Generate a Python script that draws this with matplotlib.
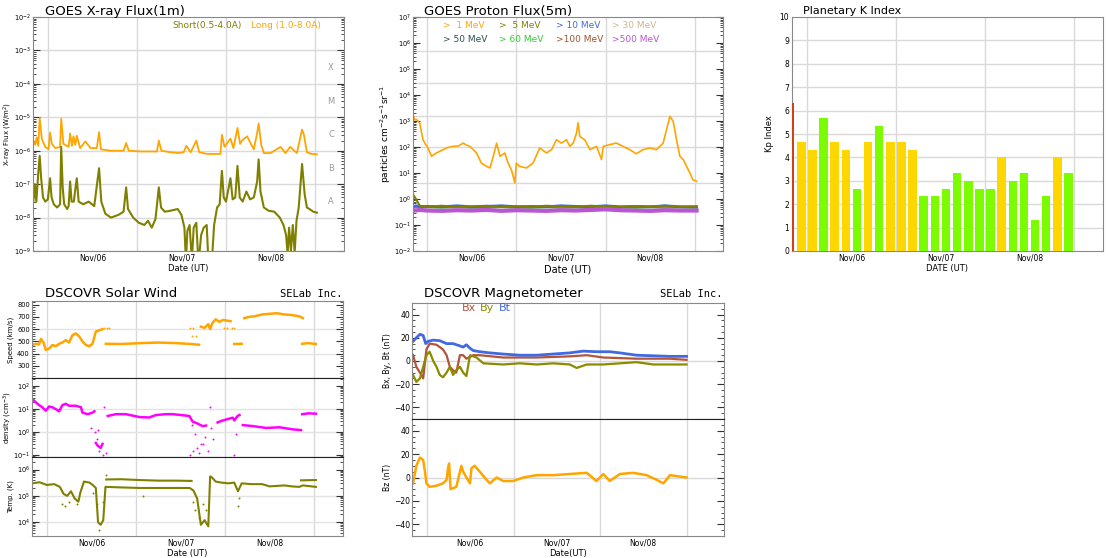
"""
plot.py

Recreates the space weather dashboard: GOES X-ray flux, GOES proton flux,
planetary K index, DSCOVR solar wind and DSCOVR magnetometer.
Time is given in hours from Nov/06 00:00 UT.
"""

import matplotlib
matplotlib.use("Agg")
import matplotlib.pyplot as plt
from matplotlib.ticker import LogLocator, MultipleLocator, NullFormatter

W, H = 1108, 558

day_ticks = [12, 36, 60]
day_labels = ["Nov/06", "Nov/07", "Nov/08"]
midnights = [0, 24, 48, 72]

# GOES X-ray, long channel (hour, W/m2 in 1e-6)
xray_long = [(-3.9, 2.0), (-3.4, 1.5), (-3.0, 2.5), (-2.6, 1.4), (-2.2, 9.5), (-1.6, 2.2),
             (-0.7, 1.3), (0.2, 1.1), (0.6, 3.5), (1.1, 1.6), (2.0, 1.2), (3.3, 1.3),
             (3.6, 9.0), (4.2, 1.6), (5.6, 1.3), (6.0, 3.3), (6.5, 1.4), (6.9, 2.7),
             (7.4, 1.5), (7.8, 2.8), (8.7, 1.2), (10.1, 1.9), (11.5, 1.2), (13.2, 1.2),
             (13.8, 3.6), (14.3, 1.1), (17.0, 1.0), (20.4, 1.0), (21.1, 1.7), (21.8, 1.0),
             (25.0, 0.95), (29.4, 0.95), (29.9, 2.0), (30.6, 1.0), (33.0, 0.9), (35.2, 0.85),
             (36.6, 0.9), (37.3, 1.4), (38.5, 0.9), (40.0, 2.0), (40.8, 0.9), (43.0, 0.8),
             (46.5, 0.8), (46.9, 3.0), (47.6, 1.3), (49.2, 2.3), (50.0, 1.2), (51.1, 4.8),
             (51.8, 1.6), (52.3, 2.0), (53.7, 2.7), (54.6, 1.7), (55.5, 1.1), (56.4, 3.4),
             (56.8, 6.5), (57.5, 1.5), (58.2, 0.85), (60.0, 0.85), (62.7, 1.3), (64.0, 0.85),
             (65.3, 1.3), (67.1, 0.85), (68.5, 4.3), (69.0, 3.0), (69.8, 0.9), (71.0, 0.8),
             (72.5, 0.78)]

# GOES X-ray, short channel (hour, W/m2 in 1e-8)
xray_short = [(-3.9, 3), (-3.5, 10), (-3.1, 3), (-2.6, 20), (-2.2, 70), (-1.8, 15), (-1.3, 4),
              (-0.7, 3), (0.0, 3.5), (0.6, 15), (1.0, 4), (1.6, 2.5), (2.5, 2), (3.3, 2.5),
              (3.6, 130), (4.0, 8), (4.4, 2.5), (5.2, 1.8), (5.6, 2.2), (6.0, 12), (6.4, 3),
              (7.0, 3), (7.4, 7), (7.8, 15), (8.3, 3), (9.5, 2.5), (11.0, 3), (12.5, 2.2),
              (13.8, 30), (14.4, 3), (15.5, 1.3), (17.0, 1.0), (19.0, 1.2), (20.4, 1.5),
              (21.1, 8), (21.6, 1.8), (23.0, 1.0), (24.5, 0.7), (26.0, 0.6), (27.0, 0.8),
              (28.0, 0.5), (29.0, 0.9), (29.9, 8), (30.5, 2), (31.5, 1.5), (33.0, 1.6),
              (35.0, 1.8), (36.0, 1.2), (36.8, 0.5), (37.2, 0.05), (37.6, 0.4), (38.2, 0.6),
              (38.8, 0.05), (39.3, 0.5), (40.0, 0.7), (40.6, 0.04), (41.3, 0.3), (42.0, 0.5),
              (42.8, 0.6), (43.3, 0.04), (44.2, 0.05), (44.8, 0.6), (45.6, 2.0), (46.3, 2.5),
              (46.9, 25), (47.4, 4), (48.0, 3), (49.2, 15), (49.8, 3.5), (50.5, 4), (51.1, 35),
              (51.7, 4), (52.5, 3), (53.5, 6), (54.5, 3.5), (55.5, 4), (56.4, 12), (56.8, 55),
              (57.3, 6), (58.2, 2), (59.5, 1.6), (61.0, 1.5), (62.5, 1.0), (63.5, 0.6),
              (64.2, 0.3), (64.6, 0.08), (65.0, 0.5), (65.5, 0.1), (66.0, 0.6), (66.5, 0.09),
              (67.0, 0.8), (67.6, 2.0), (68.5, 40), (69.2, 5), (69.8, 2.0), (70.5, 1.8),
              (71.5, 1.5), (72.5, 1.4)]

# GOES proton flux > 1 MeV (hour, particles)
proton_1mev = [(-3.8, 1750), (-3.3, 1100), (-2.9, 1150), (-2.0, 840), (-1.1, 190), (-0.5, 130),
               (0.0, 106), (1.2, 44), (2.5, 59), (4.3, 79), (5.5, 95), (7.0, 106), (8.5, 110),
               (9.7, 142), (10.5, 120), (11.5, 106), (13.3, 59), (14.6, 24), (16.0, 18),
               (16.9, 15.6), (17.8, 44), (18.7, 140), (19.6, 44), (20.9, 59), (21.8, 24),
               (22.7, 13), (23.6, 4.1), (24.0, 24), (24.9, 18), (26.7, 15.6), (28.5, 24),
               (30.3, 92), (32.1, 59), (33.5, 79), (34.8, 190), (36.1, 142), (37.5, 190),
               (38.4, 106), (39.3, 142), (40.2, 345), (40.6, 850), (41.1, 250), (42.4, 190),
               (43.8, 79), (45.6, 106), (46.9, 33), (47.4, 106), (49.1, 123), (50.9, 142),
               (52.7, 106), (54.5, 79), (56.3, 55), (58.1, 79), (59.9, 92), (61.7, 79),
               (63.5, 142), (64.4, 464), (65.3, 1510), (66.2, 970), (67.1, 190), (68.0, 44),
               (68.9, 33), (69.8, 18), (70.7, 10), (71.5, 5.5), (72.5, 4.8)]

# the higher energy channels sit near the background level
proton_low_hours = [-3.8, -3.0, -2.0, 0, 4, 8, 12, 16, 20, 24, 28, 32, 36, 40, 44, 48, 52,
                    56, 60, 64, 68, 72.5]
proton_5mev = [1.5, 1.0, 0.55, 0.5, 0.55, 0.5, 0.52, 0.55, 0.5, 0.53, 0.5, 0.55, 0.52, 0.5,
               0.55, 0.52, 0.5, 0.53, 0.5, 0.55, 0.5, 0.52]
proton_10mev = [0.5, 0.55, 0.5, 0.52, 0.5, 0.55, 0.5, 0.52, 0.55, 0.5, 0.52, 0.5, 0.55, 0.52,
                0.5, 0.55, 0.5, 0.52, 0.5, 0.55, 0.5, 0.5]
proton_60mev = [0.48, 0.5, 0.47, 0.5, 0.48, 0.5, 0.47, 0.49, 0.5, 0.48, 0.47, 0.5, 0.48, 0.49,
                0.47, 0.5, 0.48, 0.47, 0.5, 0.48, 0.49, 0.47]
proton_500mev = [0.37, 0.36, 0.38, 0.36, 0.35, 0.37, 0.36, 0.38, 0.35, 0.37, 0.36, 0.35, 0.37,
                 0.36, 0.38, 0.4, 0.37, 0.36, 0.35, 0.37, 0.36, 0.36]

proton_legend = [(">  1 MeV", "#FFA500"), (">  5 MeV", "#808000"), ("> 10 MeV", "#4169E1"),
                 ("> 30 MeV", "#D2B48C"), ("> 50 MeV", "#2F4F4F"), ("> 60 MeV", "#32CD32"),
                 (">100 MeV", "#A0522D"), (">500 MeV", "#BA55D3")]

# Planetary K index, 3-hour bars (bar centre hour, Kp, colour key)
kp_hours = [-4.5, -1.5, 1.5, 4.5, 7.5, 10.5, 13.5, 16.5, 19.5, 22.5, 25.5, 28.5, 31.5,
            34.5, 37.5, 40.5, 43.5, 46.5, 49.5, 52.5, 55.5, 58.5, 61.5, 64.5, 67.5, 70.5]
kp_values = [6.33, 4.67, 4.33, 5.67, 4.67, 4.33, 2.67, 4.67, 5.33, 4.67, 4.67, 4.33, 2.33,
             2.33, 2.67, 3.33, 3.0, 2.67, 2.67, 4.0, 3.0, 3.33, 1.33, 2.33, 4.0, 3.33]
kp_kinds = ["r", "y", "y", "g", "y", "y", "g", "y", "g", "y", "y", "y", "g",
            "g", "g", "g", "g", "g", "g", "y", "g", "g", "g", "g", "y", "g"]
kp_palette = {"r": "#D2401A", "y": "#FFD700", "g": "#7CFC00"}

# DSCOVR solar wind speed (km/s), segments split by data gaps
speed_segments = [
    [(-3.9, 470), (-3.0, 480), (-2.1, 475), (-1.6, 520), (-0.9, 490), (-0.3, 430), (0.6, 440),
     (1.5, 470), (2.4, 460), (3.3, 480), (4.2, 490), (5.1, 510), (6.0, 490), (6.9, 550),
     (7.8, 565), (8.7, 540), (9.6, 500), (10.5, 470), (11.4, 460), (12.3, 480), (13.2, 580),
     (14.1, 590), (15.0, 600)],
    [(15.9, 480), (20.0, 478), (25.0, 485), (30.0, 490), (35.0, 485), (39.0, 478), (41.0, 472)],
    [(41.5, 620), (42.5, 610), (43.5, 640), (44.0, 600), (44.6, 650), (45.5, 680), (46.5, 660),
     (47.5, 675), (48.5, 670), (49.5, 665)],
    [(50.5, 478), (52.5, 480)],
    [(53.2, 690), (54.5, 700), (56.0, 705), (58.0, 720), (60.0, 725), (62.0, 730), (64.0, 720),
     (66.0, 715), (68.0, 705), (69.0, 690)],
    [(68.8, 480), (70.5, 485), (72.5, 478)],
]
speed_dots = [(15.5, 610), (16.2, 612), (16.8, 608), (38.5, 610), (39.5, 612), (40.2, 545),
              (39.0, 540), (47.8, 610), (48.5, 612), (49.8, 610), (50.5, 612)]

# proton density (cm^-3)
density_segments = [
    [(-3.9, 28), (-3.0, 20), (-2.1, 15), (-1.2, 12), (-0.3, 8.5), (0.6, 13), (1.5, 12),
     (2.9, 9), (3.3, 8), (4.2, 15), (5.1, 17), (6.0, 14), (7.8, 14), (9.2, 12), (9.6, 7),
     (11.0, 6), (12.3, 7), (12.8, 8)],
    [(13.2, 0.33), (13.7, 0.25), (14.5, 0.2), (15.0, 0.3)],
    [(16.4, 5), (18.6, 6), (21.3, 6), (24.9, 4.5), (27.6, 4.3), (29.4, 5.5), (32.1, 6),
     (33.9, 6), (36.6, 5.4), (38.4, 5), (39.3, 2.8), (40.2, 2.5), (42.0, 1.8), (42.9, 1.9)],
    [(46.0, 2.6), (46.9, 3), (48.3, 3.5), (50.1, 4.2), (50.5, 3.2), (51.4, 5), (51.9, 5.5)],
    [(52.8, 2.0), (55.5, 1.8), (59.1, 1.5), (62.7, 1.6), (66.2, 1.3), (68.5, 1.2)],
    [(68.8, 6.0), (70.5, 6.5), (72.5, 6.3)],
]
density_dots = [(13.0, 1.0), (13.5, 0.5), (14.0, 0.15), (15.2, 0.1), (15.5, 12), (16.0, 0.12),
                (38.5, 0.1), (39.5, 0.15), (40.0, 0.8), (40.5, 0.2), (41.0, 0.12), (41.5, 0.3),
                (42.5, 0.6), (43.5, 0.15), (43.9, 13), (44.2, 1.5), (44.8, 0.5), (50.5, 0.1),
                (51.0, 0.8), (12.0, 1.5), (13.8, 1.2), (39.0, 2.0), (42.0, 0.3)]

# proton temperature (K), main band plus an upper band
temp_main = [(-3.9, 3.0e5), (-2.0, 3.3e5), (0.0, 2.6e5), (2.0, 2.8e5), (3.5, 2.2e5),
             (4.5, 1.2e5), (5.5, 1.0e5), (6.5, 1.5e5), (7.5, 0.8e5), (8.5, 0.6e5), (9.0, 1.3e5),
             (10.0, 3.5e5), (11.5, 3.2e5), (12.5, 2.5e5), (13.2, 2.0e5), (13.8, 1.0e4),
             (14.5, 8e3), (15.2, 1.2e4), (15.8, 2.2e5), (20.0, 2.1e5), (25.0, 2.0e5),
             (30.0, 2.0e5), (35.0, 2.0e5), (38.5, 2.0e5), (39.5, 1.6e5), (40.5, 8e4),
             (41.5, 8e3), (42.5, 1.2e4), (43.5, 7e3), (44.0, 5.5e5), (44.5, 5.0e5),
             (45.5, 3.5e5), (47.0, 3.2e5), (49.0, 3.0e5), (50.5, 3.2e5), (51.5, 1.5e5),
             (52.5, 3.0e5), (55.0, 2.8e5), (58.0, 2.8e5), (60.0, 2.3e5), (62.0, 2.4e5),
             (64.0, 2.5e5), (66.0, 2.3e5), (68.0, 2.2e5), (69.0, 2.5e5), (72.5, 2.2e5)]
temp_upper = [[(16.0, 4.2e5), (20.0, 4.3e5), (25.0, 4.0e5), (30.0, 3.8e5), (35.0, 3.8e5),
               (39.0, 3.7e5)],
              [(68.5, 3.9e5), (72.5, 4.0e5)]]
temp_dots = [(4.0, 5e4), (5.0, 4e4), (6.0, 6e4), (8.0, 5e4), (12.5, 1.3e5), (13.5, 5e4),
             (14.0, 5e3), (15.0, 6e4), (16.0, 6e5), (39.5, 6e4), (40.0, 3e4), (41.0, 1.5e4),
             (42.0, 5e4), (43.0, 3e4), (51.5, 4e4), (51.8, 8e4), (26.0, 1.0e5)]

# DSCOVR magnetometer (nT)
mag_bt = [(-3.9, 17), (-3.0, 20), (-2.0, 23), (-1.1, 22), (-0.4, 15), (0.3, 17), (1.7, 18),
          (3.5, 17.5), (5.4, 15), (7.2, 15), (9.1, 13), (10.0, 12), (10.9, 14), (11.9, 11),
          (12.8, 9), (14.6, 8), (17.4, 7), (21.1, 6), (25.7, 5), (30.4, 5), (35.0, 6),
          (39.6, 7), (43.3, 8.5), (47.0, 8), (50.7, 8), (53.5, 7), (58.1, 5), (62.8, 4.5),
          (67.4, 4), (72.0, 4)]
mag_bx = [(-3.9, 5), (-3.0, -5), (-2.0, -10), (-1.1, -15), (-0.2, 10), (0.7, 15), (2.6, 14),
          (4.4, 10), (5.4, 5), (6.3, -5), (7.2, -8), (8.1, -10), (9.1, 5), (10.0, 5), (10.9, 2),
          (12.8, 5), (14.6, 5), (21.1, 3), (30.4, 3), (39.6, 4), (44.3, 5), (48.9, 3),
          (58.1, 2), (67.4, 2), (72.0, 1)]
mag_by = [(-3.9, -12), (-3.0, -18), (-2.0, -15), (-1.1, -5), (-0.2, 5), (0.7, 8), (1.7, 0),
          (2.6, -5), (3.5, -12), (4.4, -14), (5.4, -10), (6.3, -5), (7.2, -12), (8.1, -8),
          (9.1, -5), (10.0, -10), (10.9, -13), (11.9, 5), (13.7, 3), (15.6, -2), (21.1, -3),
          (25.7, -2), (30.4, -3), (35.0, -2), (39.6, -3), (41.5, -6), (44.3, -3), (48.9, -3),
          (53.5, -2), (58.1, -1), (62.8, -3), (67.4, -3), (72.0, -3)]
mag_bz = [(-3.9, -5), (-3.0, 10), (-2.0, 17), (-1.1, 15), (-0.6, 5), (-0.2, -5), (0.7, -8),
          (2.6, -7), (4.4, -5), (5.4, -2), (5.8, 8), (6.1, 12), (6.5, -10), (8.1, -8),
          (9.5, 10), (10.0, 5), (10.9, 0), (11.9, -5), (12.3, 8), (13.2, 10), (14.6, 5),
          (16.5, -2), (17.4, -5), (19.3, 0), (21.1, -3), (23.9, -3), (26.7, 0), (30.4, 2),
          (35.0, 2), (39.6, 3), (44.3, 4), (47.0, -3), (48.9, 3), (50.7, -3), (53.5, 3),
          (57.2, 4), (60.9, 2), (63.7, -2), (65.6, -5), (67.4, 2), (72.0, 0)]

fig = plt.figure(figsize=(W / 100, H / 100), dpi=100)


def add_axes_px(left, top, right, bottom):
    return fig.add_axes([left / W, 1 - bottom / H, (right - left) / W, (bottom - top) / H])


def fig_text(x, y, s, **kw):
    return fig.text(x / W, 1 - y / H, s, **kw)


def split(pairs, scale=1.0):
    return [p[0] for p in pairs], [p[1] * scale for p in pairs]


def style_axes(ax, xlim, labels=True, grid_color="#d9d9d9"):
    ax.set_xlim(*xlim)
    ax.set_xticks(day_ticks)
    ax.set_xticklabels(day_labels if labels else [])
    for m in midnights:
        ax.axvline(m, color=grid_color, lw=1, zorder=0)
    ax.tick_params(axis="x", length=0, labelsize=5.5, pad=2)
    ax.tick_params(axis="y", which="both", direction="in", right=True, labelsize=4.8,
                   pad=1.5, color="#333333")
    ax.tick_params(axis="y", which="major", length=5)
    ax.tick_params(axis="y", which="minor", length=2.5)
    for s in ax.spines.values():
        s.set_color("#888888")


def log_ticks(ax):
    ax.yaxis.set_major_locator(LogLocator(base=10, numticks=20))
    ax.yaxis.set_minor_locator(LogLocator(base=10, subs=range(2, 10), numticks=20))
    ax.yaxis.set_minor_formatter(NullFormatter())


def place_ylabel(ax, text, x_px, left_px, width_px):
    # right edge of the rotated label sits at x_px (figure pixels)
    ax.set_ylabel(text, fontsize=5)
    ax.yaxis.set_label_coords((x_px - left_px) / width_px, 0.5)


# ---- GOES X-ray ----
ax = add_axes_px(33, 17, 344, 251)
style_axes(ax, (-4, 79.8))
ax.set_yscale("log")
ax.set_ylim(1e-9, 1e-2)
log_ticks(ax)
for p in range(-9, -2):
    ax.axhline(10.0 ** p, color="#d9d9d9", lw=1, zorder=0)
t, v = split(xray_long, 1e-6)
ax.plot(t, v, color="#FFA500", lw=1.3)
t, v = split(xray_short, 1e-8)
ax.plot(t, v, color="#808000", lw=1.5)
for letter, level in zip("XMCBA", [3e-4, 3e-5, 3e-6, 3e-7, 3e-8]):
    ax.text(0.958, level, letter, transform=ax.get_yaxis_transform(), color="#999999",
            fontsize=6, ha="center", va="center")
place_ylabel(ax, "X-ray Flux (W/m$^2$)", 13.5, 33, 311)
ax.set_xlabel("Date (UT)", fontsize=6, labelpad=1)
fig_text(45, 15, "GOES X-ray Flux(1m)", fontsize=9.5)
fig_text(172, 28, "Short(0.5-4.0A)", fontsize=6.5, color="#808000")
fig_text(251, 28, "Long (1.0-8.0A)", fontsize=6.5, color="#FFA500")

# ---- GOES proton ----
ax = add_axes_px(413, 17, 723, 251)
style_axes(ax, (-3.8, 79.6))
ax.set_yscale("log")
ax.set_ylim(1e-2, 1e7)
log_ticks(ax)
for level in [5e5, 3e4, 1.5e3, 1e2, 4]:
    ax.axhline(level, color="#d9d9d9", lw=1, zorder=0)
t, v = split(proton_1mev)
ax.plot(t, v, color="#FFA500", lw=1.2)
ax.plot(proton_low_hours, proton_60mev, color="#32CD32", lw=2)
ax.plot(proton_low_hours, proton_10mev, color="#4169E1", lw=2)
ax.plot(proton_low_hours, proton_5mev, color="#808000", lw=1.5)
ax.plot(proton_low_hours, proton_500mev, color="#BA55D3", lw=3)
ax.set_ylabel("particles cm$^{-2}$s$^{-1}$sr$^{-1}$", fontsize=6.5, labelpad=1)
ax.set_xlabel("Date (UT)", fontsize=7, labelpad=1)
fig_text(424, 15, "GOES Proton Flux(5m)", fontsize=9.5)
col_x = [443, 499, 556, 612]
for i, (label, color) in enumerate(proton_legend):
    fig_text(col_x[i % 4], 28 + 14 * (i // 4), label, fontsize=6.5, color=color)

# ---- Planetary K index ----
ax = add_axes_px(792, 17, 1103, 251)
ax.set_xlim(-4, 79.8)
ax.set_ylim(0, 10)
ax.set_yticks(range(0, 11))
ax.set_xticks(day_ticks)
ax.set_xticklabels(day_labels)
ax.tick_params(axis="both", length=0, labelsize=5.5, pad=2)
for k in range(1, 10):
    ax.axhline(k, color="#d9d9d9", lw=1, zorder=0)
for m in midnights:
    ax.axvline(m, color="#d9d9d9", lw=1, zorder=0)
ax.bar(kp_hours, kp_values, width=2.3, color=[kp_palette[k] for k in kp_kinds], zorder=3)
for s in ax.spines.values():
    s.set_color("#888888")
ax.set_ylabel("Kp Index", fontsize=6, labelpad=4)
ax.set_xlabel("DATE (UT)", fontsize=6, labelpad=1)
fig_text(803, 14, "Planetary K Index", fontsize=8)

# ---- DSCOVR solar wind ----
sw_left, sw_right = 32, 343
ax_s = add_axes_px(sw_left, 301, sw_right, 378)
ax_d = add_axes_px(sw_left, 378, sw_right, 457)
ax_t = add_axes_px(sw_left, 457, sw_right, 536)
for a in (ax_s, ax_d):
    style_axes(a, (-4, 79.8), labels=False)
style_axes(ax_t, (-4, 79.8))

ax_s.set_ylim(200, 830)
ax_s.yaxis.set_major_locator(MultipleLocator(100))
ax_s.yaxis.set_minor_locator(MultipleLocator(20))
ax_s.set_yticks([300, 400, 500, 600, 700, 800])
for level in [400, 600]:
    ax_s.axhline(level, color="#e3e3e3", lw=1, zorder=0)
for seg in speed_segments:
    t, v = split(seg)
    ax_s.plot(t, v, color="#FFA500", lw=1.8)
t, v = split(speed_dots)
ax_s.scatter(t, v, s=2, color="#FFA500", lw=0)
place_ylabel(ax_s, "Speed (km/s)", 14, sw_left, sw_right - sw_left)

ax_d.set_yscale("log")
ax_d.set_ylim(0.08, 230)
log_ticks(ax_d)
for level in [1, 10]:
    ax_d.axhline(level, color="#e3e3e3", lw=1, zorder=0)
for seg in density_segments:
    t, v = split(seg)
    ax_d.plot(t, v, color="#FF00FF", lw=1.8)
t, v = split(density_dots)
ax_d.scatter(t, v, s=2, color="#FF00FF", lw=0)
place_ylabel(ax_d, "density (cm$^{-3}$)", 14, sw_left, sw_right - sw_left)

ax_t.set_yscale("log")
ax_t.set_ylim(3e3, 3e6)
log_ticks(ax_t)
for level in [1e4, 1e5]:
    ax_t.axhline(level, color="#e3e3e3", lw=1, zorder=0)
t, v = split(temp_main)
ax_t.plot(t, v, color="#808000", lw=1.5)
for seg in temp_upper:
    t, v = split(seg)
    ax_t.plot(t, v, color="#808000", lw=1.5)
t, v = split(temp_dots)
ax_t.scatter(t, v, s=2, color="#808000", lw=0)
place_ylabel(ax_t, "Temp. (K)", 14, sw_left, sw_right - sw_left)
ax_t.set_xlabel("Date (UT)", fontsize=6, labelpad=1)

ax_s.spines["bottom"].set_color("#222222")
ax_d.spines["top"].set_color("#222222")
ax_d.spines["bottom"].set_color("#222222")
ax_t.spines["top"].set_color("#222222")

fig_text(45, 297, "DSCOVR Solar Wind", fontsize=9.5)
fig_text(343, 297, "SELab Inc.", fontsize=7.5, family="DejaVu Sans Mono", ha="right")

# ---- DSCOVR magnetometer ----
ax_b = add_axes_px(412, 303, 724, 419)
ax_z = add_axes_px(412, 419, 724, 536)
style_axes(ax_b, (-4.2, 82.4), labels=False)
style_axes(ax_z, (-4.2, 82.4))
for a in (ax_b, ax_z):
    a.set_ylim(-50, 50)
    a.set_yticks([-40, -20, 0, 20, 40])
    a.yaxis.set_minor_locator(MultipleLocator(5))
    a.axhline(0, color="#d9d9d9", lw=1, zorder=0)
    a.tick_params(axis="y", labelsize=5.5)
t, v = split(mag_bx)
ax_b.plot(t, v, color="#B5533C", lw=1.6)
t, v = split(mag_by)
ax_b.plot(t, v, color="#8B8B00", lw=1.6)
t, v = split(mag_bt)
ax_b.plot(t, v, color="#4169E1", lw=2)
t, v = split(mag_bz)
ax_z.plot(t, v, color="#FFA500", lw=1.8)
ax_b.spines["bottom"].set_color("#222222")
ax_z.spines["top"].set_color("#222222")
ax_b.set_ylabel("Bx, By, Bt (nT)", fontsize=5.5, labelpad=1)
ax_z.set_ylabel("Bz (nT)", fontsize=5.5, labelpad=1)
ax_z.set_xlabel("Date(UT)", fontsize=6, labelpad=1)
fig_text(462, 311, "Bx", fontsize=8, color="#B5533C")
fig_text(480, 311, "By", fontsize=8, color="#8B8B00")
fig_text(499, 311, "Bt", fontsize=8, color="#4169E1")

fig_text(424, 297, "DSCOVR Magnetometer", fontsize=9.5)
fig_text(723, 297, "SELab Inc.", fontsize=7.5, family="DejaVu Sans Mono", ha="right")

fig.savefig("out.png", dpi=100)
